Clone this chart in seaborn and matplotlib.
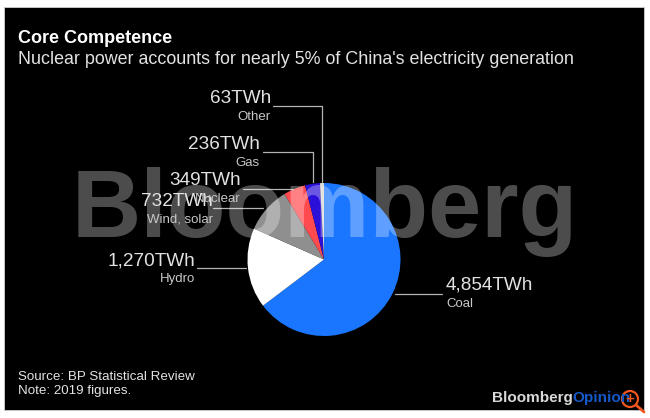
"""
China electricity generation pie, Bloomberg Opinion style
"""

import matplotlib
matplotlib.use('Agg')
import matplotlib.pyplot as plt
from matplotlib.patches import Circle, Rectangle
import seaborn as sns

sns.set_theme(style='white')
plt.rcParams['font.family'] = ['Liberation Sans', 'DejaVu Sans']

# ─── Data ────────────────────────────────────────────────────
sources = ['Coal', 'Hydro', 'Wind, solar', 'Nuclear', 'Gas', 'Other']
twh = [4854, 1270, 732, 349, 236, 63]
colors = ['#1a76ff', '#ffffff', '#8f8f8f', '#ff4b4f', '#2a10d8', '#d8d8d8']

title = 'Core Competence'
subtitle = "Nuclear power accounts for nearly 5% of China's electricity generation"
source_note = 'Source: BP Statistical Review\nNote: 2019 figures.'

W, H = 650, 418
BLACK = '#000000'
LINE = '#b4b4b4'
TEXT = '#e2e2e2'

fig = plt.figure(figsize=(W / 100, H / 100), dpi=100, facecolor='white')

# ─── Black panel ─────────────────────────────────────────────
bg = fig.add_axes([0, 0, 1, 1])
bg.set_xlim(0, W)
bg.set_ylim(H, 0)
bg.axis('off')
bg.add_patch(Rectangle((4, 7), 640, 403, facecolor=BLACK, edgecolor='#cfcfcf', lw=0.6))

# ─── Pie ─────────────────────────────────────────────────────
cx, cy, r = 324, 259.5, 76.5
pie_ax = fig.add_axes([(cx - r) / W, 1 - (cy + r) / H, 2 * r / W, 2 * r / H])
pie_ax.pie(twh, colors=colors, startangle=90, counterclock=False, radius=1,
           wedgeprops={'linewidth': 0})
pie_ax.set_xlim(-1, 1)
pie_ax.set_ylim(-1, 1)
pie_ax.patch.set_alpha(0)

# ─── Overlay: watermark, labels, leader lines ────────────────
ov = fig.add_axes([0, 0, 1, 1])
ov.set_xlim(0, W)
ov.set_ylim(H, 0)
ov.axis('off')
ov.patch.set_alpha(0)

ov.text(325, 237, 'Bloomberg', color='white', alpha=0.3, fontsize=69, fontweight='bold',
        ha='center', va='baseline')

ov.text(18, 43, title, color='white', fontsize=13, fontweight='bold')
ov.text(18, 64, subtitle, color=TEXT, fontsize=12.9)
ov.text(18, 394, source_note, color=TEXT, fontsize=9.6, linespacing=1.2, va='baseline')

# label anchor x, value baseline y, leader polyline for each source
layout = {
    'Coal': (446, 290, [(395, 294), (442, 294)]),
    'Hydro': (195, 265, [(197, 268), (246, 268)]),
    'Wind, solar': (213, 206, [(213, 208), (263, 208)]),
    'Nuclear': (241, 185, [(243, 189), (293, 189)]),
    'Gas': (260, 149, [(263, 152), (313, 152), (313, 182)]),
    'Other': (271, 103, [(273, 106), (322, 106), (322, 182)]),
}
for name, val in zip(sources, twh):
    x, y, pts = layout[name]
    ha = 'left' if name == 'Coal' else 'right'
    ov.text(x, y, f'{val:,}TWh', color=TEXT, fontsize=13.7, ha=ha)
    ov.text(x, y + 17, name, color='#c8c8c8', fontsize=9.5, ha=ha)
    ov.plot([p[0] for p in pts], [p[1] for p in pts], color=LINE, lw=0.9)

# ─── Branding ────────────────────────────────────────────────
brand = ov.text(492, 402, 'Bloomberg', color='#d9d9d9', fontsize=11, fontweight='bold')
fig.canvas.draw()
bb = brand.get_window_extent()
ov.text(bb.x1, 402, 'Opinion', color='#1558c8', fontsize=11, fontweight='bold')

# magnifier icon
ov.add_patch(Circle((630, 399), 8, facecolor='none', edgecolor='#f0561e', lw=1.6))
ov.plot([636, 644], [405, 412], color='#f0561e', lw=2)
ov.text(630, 399, '+', color='#f0561e', fontsize=11, fontweight='bold', ha='center', va='center')

fig.savefig('out.png', dpi=100)
plt.close()
